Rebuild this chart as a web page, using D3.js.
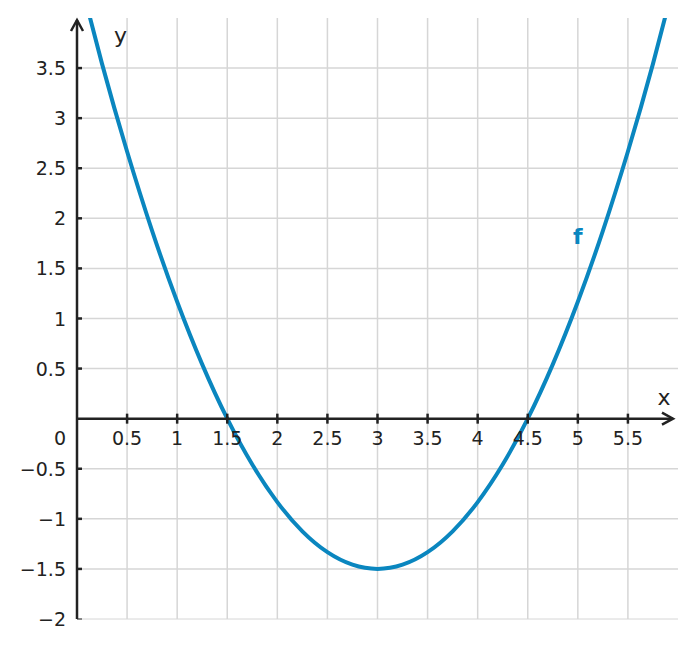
<!DOCTYPE html>
<html><head><meta charset="utf-8">
<script src="https://cdn.jsdelivr.net/npm/d3@7"></script>
<style>body{margin:0;background:#fff}svg{display:block}text{font-family:"DejaVu Sans",sans-serif}</style>
</head><body><svg id="c" width="697" height="648"></svg>
<script>
// data
const xTicks = [0.5,1,1.5,2,2.5,3,3.5,4,4.5,5,5.5];
const yTicks = [-2,-1.5,-1,-0.5,0.5,1,1.5,2,2.5,3,3.5];
const xTickLabels = ["0.5","1","1.5","2","2.5","3","3.5","4","4.5","5","5.5"];
const yTickLabels = ["\u22122","\u22121.5","\u22121","\u22120.5","0.5","1","1.5","2","2.5","3","3.5"];
const fx = [0,0.25,0.5,0.75,1,1.25,1.5,1.75,2,2.25,2.5,2.75,3,3.25,3.5,3.75,4,4.25,4.5,4.75,5,5.25,5.5,5.75,6];
const fy = [4.5,3.542,2.667,1.875,1.167,0.542,0,-0.458,-0.833,-1.125,-1.333,-1.458,-1.5,-1.458,-1.333,-1.125,-0.833,-0.458,0,0.542,1.167,1.875,2.667,3.542,4.5];

const svg = d3.select("#c");
const x = d3.scaleLinear().domain([0,6]).range([77,678]);
const y = d3.scaleLinear().domain([-2,4]).range([619,18]);
const grid = "#d6d6d6", axisC = "#222", curveC = "#0a86bf";

// grid
svg.append("g").selectAll("line").data(xTicks).join("line")
  .attr("x1",d=>x(d)).attr("x2",d=>x(d)).attr("y1",y(4)).attr("y2",y(-2))
  .attr("stroke",grid).attr("stroke-width",1.5);
svg.append("g").selectAll("line").data(yTicks).join("line")
  .attr("x1",x(0)).attr("x2",x(6)).attr("y1",d=>y(d)).attr("y2",d=>y(d))
  .attr("stroke",grid).attr("stroke-width",d=>d===-2?1:1.5);

// curve
svg.append("defs").append("clipPath").attr("id","clip").append("rect")
  .attr("x",x(0)).attr("y",y(4)).attr("width",x(6)-x(0)).attr("height",y(-2)-y(4));
const line = d3.line().x((d,i)=>x(fx[i])).y(d=>y(d)).curve(d3.curveNatural);
svg.append("path").attr("d",line(fy)).attr("fill","none").attr("stroke",curveC)
  .attr("stroke-width",4).attr("clip-path","url(#clip)");

// axes
const ax = svg.append("g").attr("stroke",axisC).attr("fill","none");
ax.append("line").attr("x1",x(0)).attr("x2",x(5.95)).attr("y1",y(0)).attr("y2",y(0)).attr("stroke-width",2.5);
ax.append("line").attr("x1",x(0)).attr("x2",x(0)).attr("y1",y(-2)).attr("y2",y(3.98)).attr("stroke-width",2.5);
ax.append("path").attr("d",`M${x(5.95)-11},${y(0)-6}L${x(5.95)},${y(0)}L${x(5.95)-11},${y(0)+6}`).attr("stroke-width",2.5);
ax.append("path").attr("d",`M${x(0)-6},${y(3.98)+11}L${x(0)},${y(3.98)}L${x(0)+6},${y(3.98)+11}`).attr("stroke-width",2.5);
ax.selectAll(".xt").data(xTicks).join("line").attr("x1",d=>x(d)).attr("x2",d=>x(d))
  .attr("y1",y(0)-5).attr("y2",y(0)+5).attr("stroke-width",2.5);
ax.selectAll(".yt").data(yTicks).join("line").attr("x1",x(0)).attr("x2",x(0)+5)
  .attr("y1",d=>y(d)).attr("y2",d=>y(d)).attr("stroke-width",d=>d===-2?1:2.5);

// labels
const t = svg.append("g").attr("fill",axisC).attr("font-size",19);
t.selectAll(".xl").data(xTicks).join("text").attr("x",d=>x(d)).attr("y",y(0)+26)
  .attr("text-anchor","middle").text((d,i)=>xTickLabels[i]);
t.selectAll(".yl").data(yTicks).join("text").attr("x",x(0)-11).attr("y",d=>y(d)+7)
  .attr("text-anchor","end").text((d,i)=>yTickLabels[i]);
t.append("text").attr("x",x(0)-11).attr("y",y(0)+26).attr("text-anchor","end").text("0");
t.append("text").attr("x",120.5).attr("y",y(3.75)).attr("text-anchor","middle").attr("font-size",22).text("y");
t.append("text").attr("x",x(5.86)).attr("y",y(0.14)).attr("text-anchor","middle").attr("font-size",22).text("x");
svg.append("text").attr("x",x(5)).attr("y",y(1.74)).attr("text-anchor","middle")
  .attr("font-size",22).attr("font-weight","bold").attr("fill",curveC).text("f");
</script></body></html>
